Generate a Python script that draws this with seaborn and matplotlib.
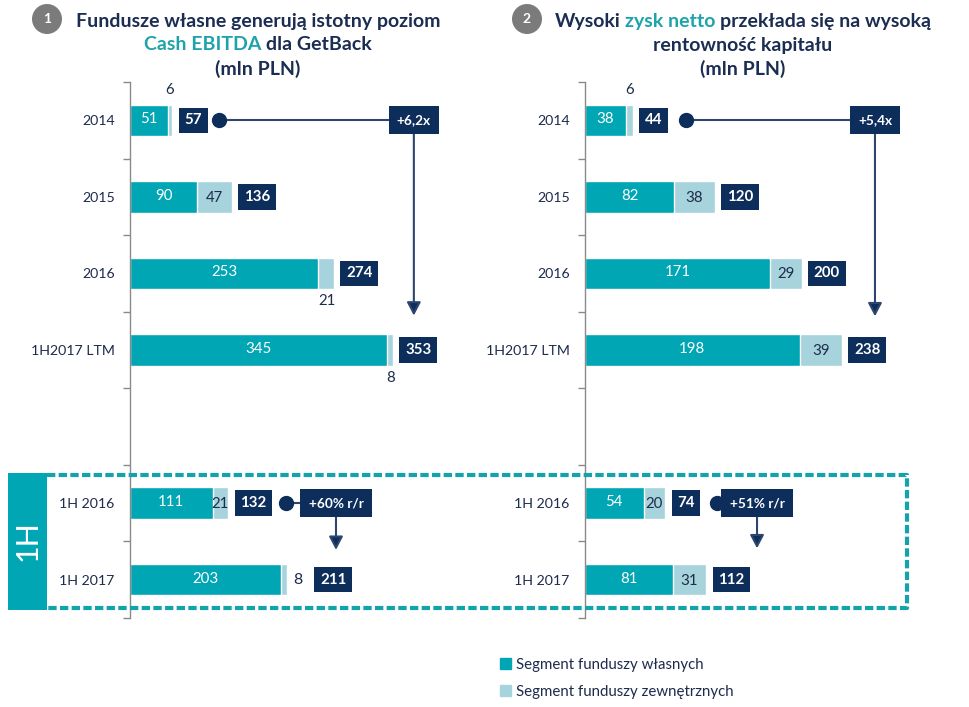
import matplotlib
matplotlib.use("Agg")
import matplotlib.pyplot as plt
import numpy as np
import pandas as pd
import seaborn as sns
from matplotlib.patches import Rectangle, Ellipse, Patch
from matplotlib.lines import Line2D

# ---------------- data ----------------
categories = ["2014", "2015", "2016", "1H2017 LTM", " ", "1H 2016", "1H 2017"]
bar_labels = ["2014", "2015", "2016", "1H2017 LTM", "1H 2016", "1H 2017"]
ebitda_own = [51, 90, 253, 345, 111, 203]
ebitda_ext = [6, 47, 21, 8, 21, 8]
ebitda_total = [57, 136, 274, 353, 132, 211]
profit_own = [38, 82, 171, 198, 54, 81]
profit_ext = [6, 38, 29, 39, 20, 31]
profit_total = [44, 120, 200, 238, 74, 112]
ebitda_growth = ["+6,2x", "+60% r/r"]
profit_growth = ["+5,4x", "+51% r/r"]
series_names = ["Segment funduszy własnych", "Segment funduszy zewnętrznych"]

# label placement (style only)
ebitda_ext_pos = ["above", "in", "below", "below", "in", "right"]
profit_ext_pos = ["above", "in", "in", "in", "in", "in"]
# growth arrows: (category row, dot x, box x, arrow tip row) in axis units
ebitda_arrows = [(0, 119.5, 381, 2.55), (5, 209, 276.5, 5.61)]
profit_arrows = [(0, 93, 267.5, 2.56), (5, 121.8, 158.7, 5.59)]

W, H = 970, 707
sns.set_theme(style="white")
plt.rcParams["font.family"] = ["Lato", "DejaVu Sans"]

TEAL = "#00a6b3"
LIGHT = "#a6d3dc"
NAVY = "#0d2d5a"
TXT = "#1d2b4c"
TITLE_NAVY = "#1b2d52"
TITLE_TEAL = "#1ea3ab"
GRAY = "#8a8a8a"
ARROW = "#2c4670"

fig = plt.figure(figsize=(W / 100, H / 100), dpi=100)


def fx(x):
    return x / W


def fy(y):
    return 1 - y / H


def make_axes(x0, width_px):
    return fig.add_axes([fx(x0), fy(618), width_px / W, (618 - 82) / H])


def draw_panel(ax, own, ext, total, ext_pos, growth, arrows, xmax):
    df = pd.DataFrame({"cat": bar_labels, "own": own,
                       "stack": np.add(own, ext)})
    sns.barplot(data=df, x="stack", y="cat", order=categories, color=LIGHT,
                width=0.41, saturation=1, ax=ax, orient="h")
    sns.barplot(data=df, x="own", y="cat", order=categories, color=TEAL,
                width=0.41, saturation=1, ax=ax, orient="h")
    ax.set_xlim(0, xmax)
    ax.set_ylim(6.5, -0.5)
    ax.set_xlabel("")
    ax.set_ylabel("")
    ax.set_xticks([])
    for s in ["top", "right", "bottom"]:
        ax.spines[s].set_visible(False)
    ax.spines["left"].set_color(GRAY)
    ax.spines["left"].set_linewidth(1)
    ax.set_yticks(range(len(categories)))
    ax.set_yticklabels(categories)
    ax.set_yticks(np.arange(-0.5, len(categories), 1), minor=True)
    ax.tick_params(axis="y", which="major", length=0, pad=11,
                   labelsize=10.2, labelcolor=TXT)
    ax.tick_params(axis="y", which="minor", length=5, width=1,
                   color=GRAY, left=True)

    for i, lab in enumerate(bar_labels):
        y = categories.index(lab)
        o, e, t = own[i], ext[i], total[i]
        s = o + e
        ax.annotate(str(o), xy=(o / 2, y), xytext=(0, 1),
                    textcoords="offset pixels", ha="center", va="center",
                    color="white", fontsize=10.8)
        pos = ext_pos[i]
        if pos == "in":
            ax.annotate(str(e), xy=(o + e / 2, y), xytext=(0, -1),
                        textcoords="offset pixels", ha="center",
                        va="center", color=TXT, fontsize=10.8)
        elif pos == "above":
            ax.annotate(str(e), xy=(s, y), xytext=(-3, 30),
                        textcoords="offset pixels", ha="center",
                        va="center", color=TXT, fontsize=10.8)
        elif pos == "below":
            ax.annotate(str(e), xy=(o + e / 2, y), xytext=(1, -28),
                        textcoords="offset pixels", ha="center",
                        va="center", color=TXT, fontsize=10.8)
        else:
            ax.annotate(str(e), xy=(s, y), xytext=(11, 0),
                        textcoords="offset pixels", ha="center",
                        va="center", color=TXT, fontsize=11.5)
        gap = 28 if pos == "right" else 7
        ax.annotate(str(t), xy=(s, y), xytext=(gap + 5, 0),
                    textcoords="offset pixels", ha="left", va="center",
                    color="white", fontsize=10.8, fontweight="bold",
                    bbox=dict(boxstyle="square,pad=0.38", fc=NAVY,
                              ec="none"), zorder=6)

    for (cy, dx, bx, ty), txt in zip(arrows, growth):
        ax.plot([dx, bx], [cy, cy], color=ARROW, lw=1.5, zorder=4)
        ax.plot([dx], [cy], marker="o", ms=10, color=NAVY, zorder=5)
        ax.annotate("", xy=(bx, ty), xytext=(bx, cy),
                    arrowprops=dict(arrowstyle="-|>,head_length=0.8,head_width=0.42",
                                    color=ARROW, fc=NAVY, lw=1.5,
                                    shrinkA=0, shrinkB=0, mutation_scale=10),
                    zorder=4)
        ax.text(bx, cy, txt, ha="center", va="center", color="white",
                fontsize=9.8, fontweight="bold", zorder=6,
                bbox=dict(boxstyle="square,pad=0.6", fc=NAVY, ec="none"))


axL = make_axes(130, 360)
axR = make_axes(585, 340)
draw_panel(axL, ebitda_own, ebitda_ext, ebitda_total, ebitda_ext_pos,
           ebitda_growth, ebitda_arrows, 360 / 0.745)
draw_panel(axR, profit_own, profit_ext, profit_total, profit_ext_pos,
           profit_growth, profit_arrows, 340 / 1.084)

# ---------------- 1H block and dashed frame ----------------
fig.add_artist(Rectangle((fx(8), fy(610)), (47 - 8) / W, (610 - 473) / H,
                         transform=fig.transFigure, fc=TEAL, ec="none",
                         zorder=3))
fig.text(fx(28), fy(541), "1H", rotation=90, color="white", fontsize=22,
         ha="center", va="center", zorder=4)
fig.add_artist(Line2D([fx(47), fx(907), fx(907), fx(47)],
                      [fy(475), fy(475), fy(608), fy(608)],
                      color="#13a3ad", lw=3, linestyle=(0, (2, 0.8)),
                      transform=fig.transFigure, zorder=3))

# ---------------- titles ----------------
renderer = fig.canvas.get_renderer()


def text_width(s, **kw):
    t = fig.text(0, 0, s, **kw)
    w = t.get_window_extent(renderer).width
    t.remove()
    return w


def rich_line(xc, y, parts, size=14):
    kw = dict(fontsize=size, fontweight="bold")
    space = text_width("a a", **kw) - text_width("aa", **kw)
    widths = [text_width(s, **kw) for s, _ in parts]
    total = sum(widths) + space * (len(parts) - 1)
    x = xc - total / 2
    for (s, c), w in zip(parts, widths):
        fig.text(fx(x), fy(y), s, color=c, ha="left", va="center", **kw)
        x += w + space


left_title = [
    [("Fundusze własne generują istotny poziom", TITLE_NAVY)],
    [("Cash EBITDA", TITLE_TEAL), ("dla GetBack", TITLE_NAVY)],
    [("(mln PLN)", TITLE_NAVY)],
]
right_title = [
    [("Wysoki", TITLE_NAVY), ("zysk netto", TITLE_TEAL),
     ("przekłada się na wysoką", TITLE_NAVY)],
    [("rentowność kapitału", TITLE_NAVY)],
    [("(mln PLN)", TITLE_NAVY)],
]
for lines, xc in [(left_title, 258), (right_title, 743)]:
    for k, parts in enumerate(lines):
        rich_line(xc, 21 + 24 * k, parts)

for cx, num in [(47, "1"), (527, "2")]:
    fig.add_artist(Ellipse((fx(cx), fy(19)), 30 / W, 30 / H,
                           transform=fig.transFigure, fc="#7b7b7b",
                           ec="none"))
    fig.text(fx(cx), fy(19), num, color="white", fontsize=10,
             fontweight="bold", ha="center", va="center")

# ---------------- legend ----------------
handles = [Patch(color=TEAL), Patch(color=LIGHT)]
fig.legend(handles, series_names, loc="upper left",
           bbox_to_anchor=(fx(500), fy(658)), frameon=False, fontsize=10.8,
           labelcolor=TXT, handlelength=0.75, handleheight=0.75,
           handletextpad=0.3, labelspacing=0.85, borderpad=0,
           borderaxespad=0)

fig.savefig("out.png", dpi=100)
